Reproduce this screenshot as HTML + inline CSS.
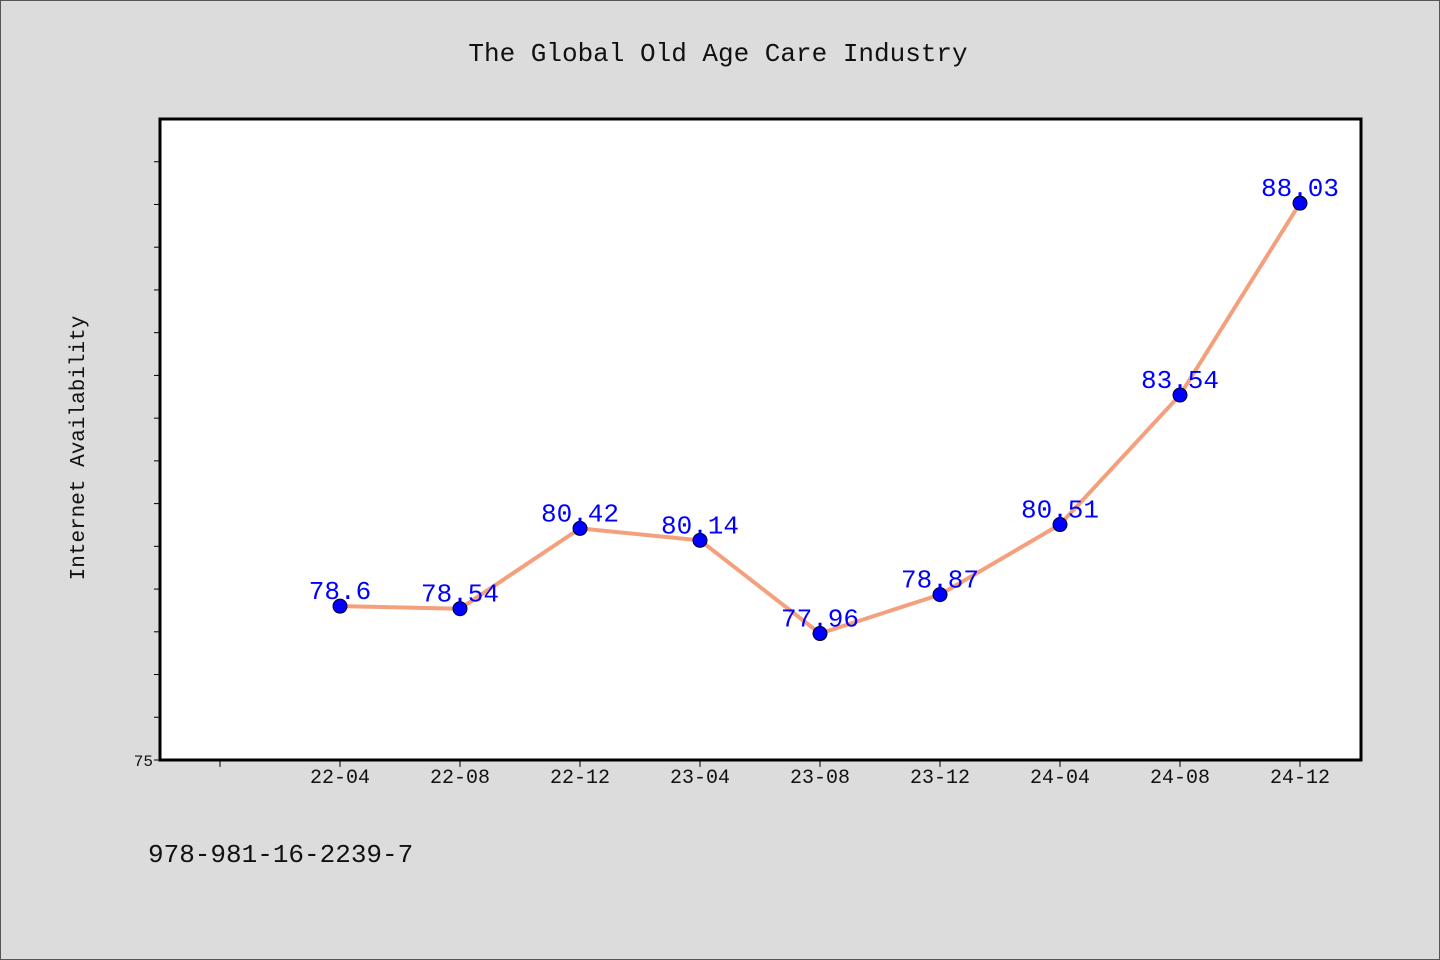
<!DOCTYPE html>
<html><head><meta charset="utf-8"><style>
html,body{margin:0;padding:0;background:#dcdcdc;}
svg{display:block;}
text{font-family:"WenQuanYi Zen Hei","Liberation Mono",monospace;}
</style></head><body>
<svg id="chart" width="1440" height="960" xmlns="http://www.w3.org/2000/svg">
<rect x="0.5" y="0.5" width="1439" height="959" fill="#dcdcdc" stroke="#555" stroke-width="1"/>
<text x="718" y="61" font-size="26" text-anchor="middle" fill="#111">The Global Old Age Care Industry</text>
<rect x="160" y="119" width="1201" height="641" fill="#fff" stroke="#000" stroke-width="3"/>
<text transform="translate(84,448) rotate(-90)" font-size="21" text-anchor="middle" fill="#111">Internet Availability</text>
<text x="148" y="862" font-size="26" fill="#111">978-981-16-2239-7</text>
<g id="axes"></g>
<g id="series"></g>
</svg>
<script>
const categories = ["22-04","22-08","22-12","23-04","23-08","23-12","24-04","24-08","24-12"];
const values = [78.6,78.54,80.42,80.14,77.96,78.87,80.51,83.54,88.03];
const valueLabels = ["78.6","78.54","80.42","80.14","77.96","78.87","80.51","83.54","88.03"];
const yTicks = [75,76,77,78,79,80,81,82,83,84,85,86,87,88,89];
const yTickLabels = ["75"];

const NS="http://www.w3.org/2000/svg";
const yMin=75, yMax=90, yTop=119, yBottom=760;
function y(v){return yBottom-(v-yMin)/(yMax-yMin)*(yBottom-yTop);}
function x(i){return 340+i*120;}
function mk(tag,attrs,parent){const e=document.createElementNS(NS,tag);for(const k in attrs)e.setAttribute(k,attrs[k]);parent.appendChild(e);return e;}
const axes=document.getElementById('axes'), series=document.getElementById('series');
yTicks.forEach((t,i)=>{
  const l=mk('line',{x1:154,x2:160,y1:y(t),y2:y(t),stroke:'#000','stroke-width':1},axes);
  
  
});
const yl=mk('text',{x:153,y:766,'font-size':16,'text-anchor':'end',fill:'#111'},axes);


yl.textContent=yTickLabels[0];
const t0=mk('line',{x1:x(-1),x2:x(-1),y1:760,y2:767,stroke:'#000','stroke-width':1},axes);


categories.forEach((c,i)=>{
  const l=mk('line',{x1:x(i),x2:x(i),y1:760,y2:767,stroke:'#000','stroke-width':1},axes);
  
  
  const t=mk('text',{x:x(i),y:783,'font-size':20,'text-anchor':'middle',fill:'#111'},axes);
  
  
  t.textContent=c;
});
const pts=values.map((v,i)=>x(i)+','+y(v)).join(' ');
const pl=mk('polyline',{points:pts,fill:'none',stroke:'#f4a07c','stroke-width':4,'stroke-linejoin':'round'},series);


values.forEach((v,i)=>{
  const c=mk('circle',{cx:x(i),cy:y(v),r:7,fill:'#0000ff',stroke:'#000022','stroke-width':1},series);
  
  
  const t=mk('text',{x:x(i),y:y(v)-7,'font-size':26,'text-anchor':'middle',fill:'#0000ff'},series);
  
  
  t.textContent=valueLabels[i];
});
</script>
</body></html>
